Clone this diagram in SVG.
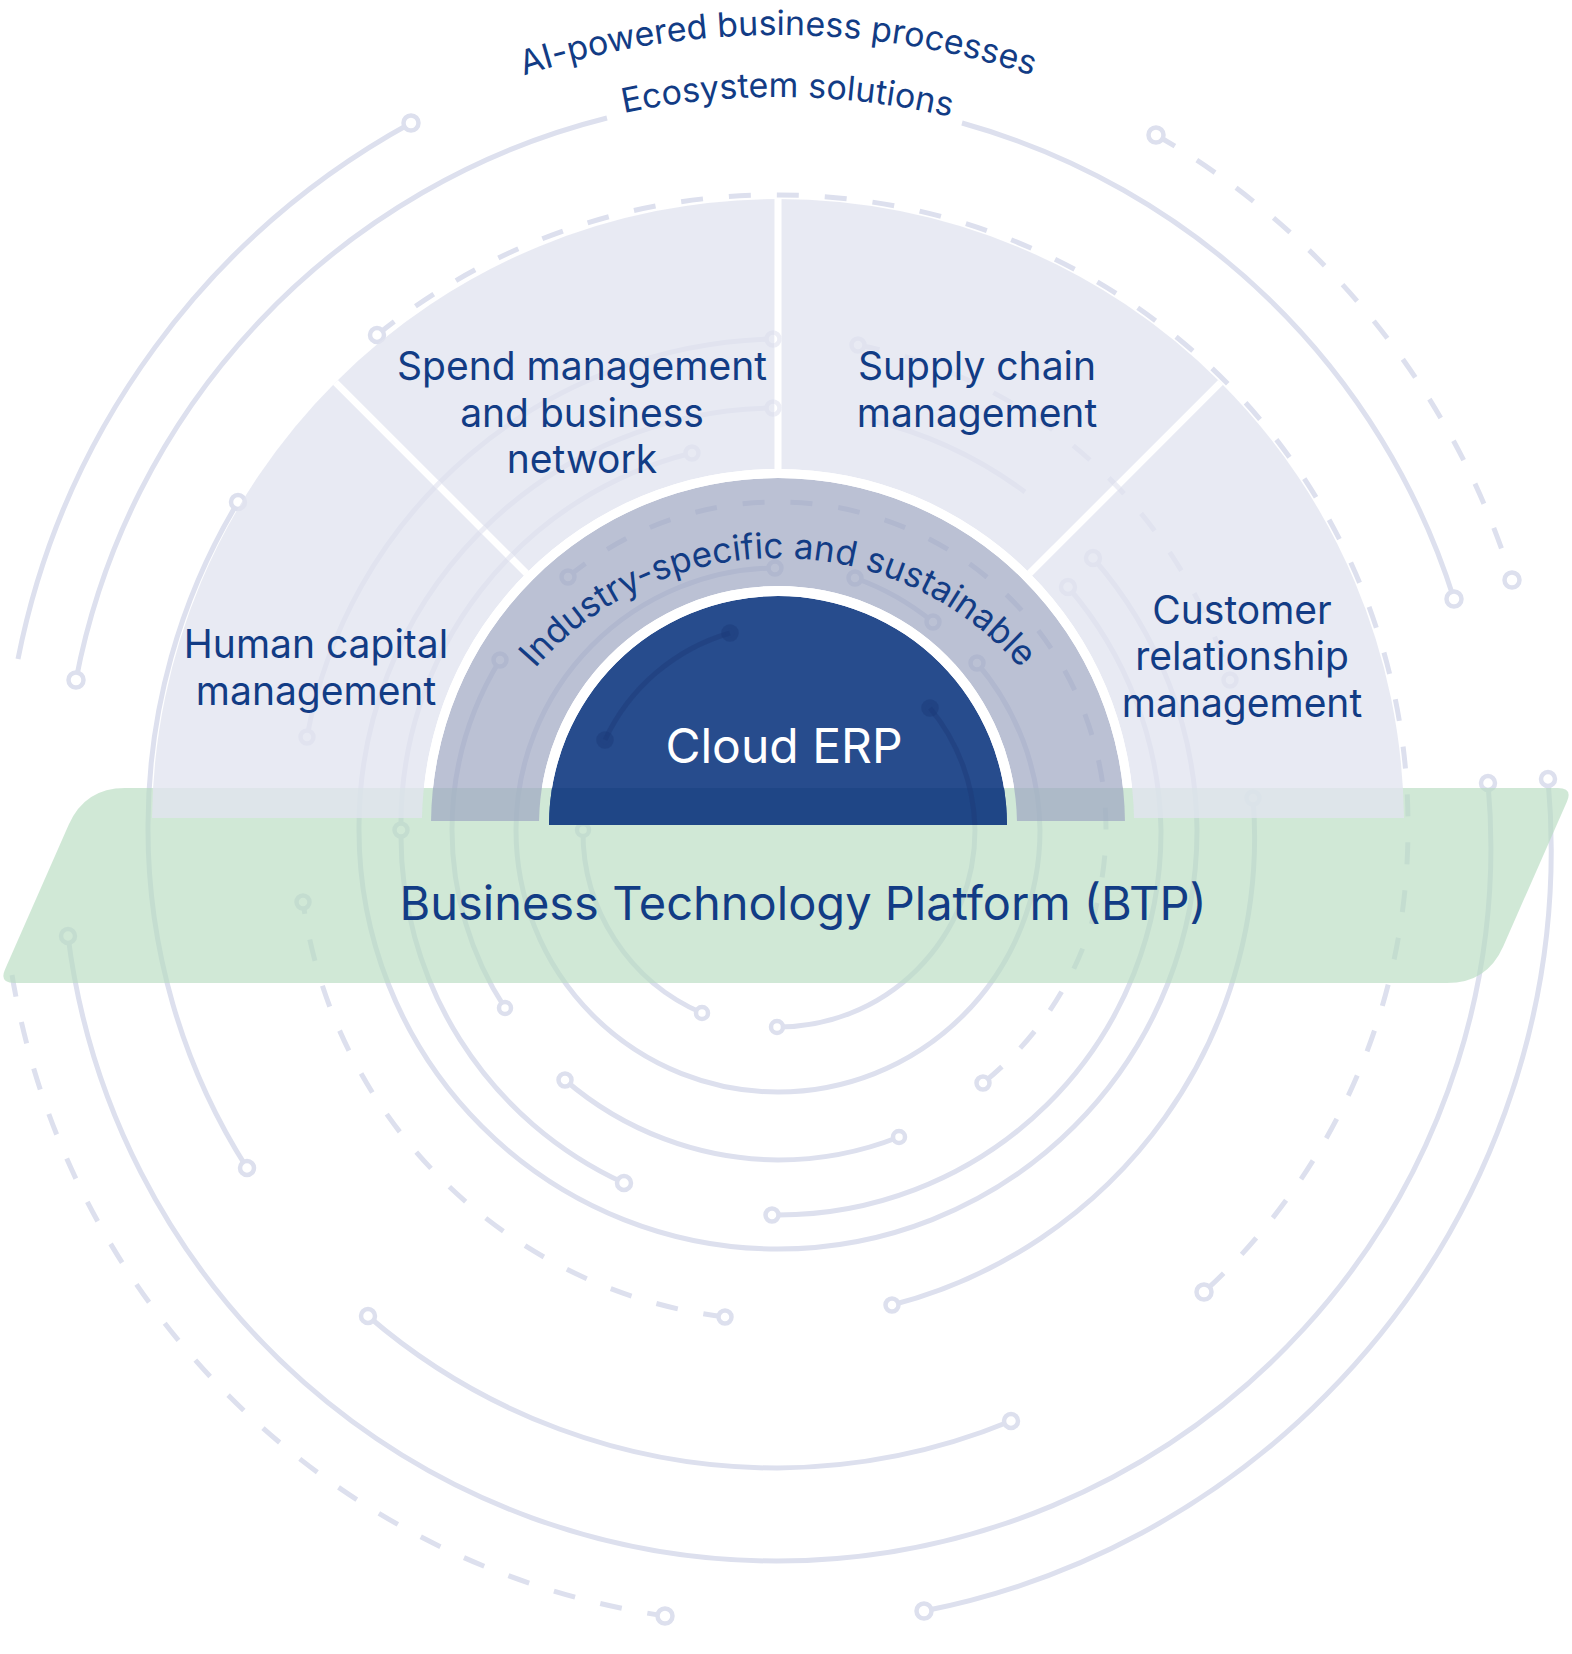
<svg xmlns="http://www.w3.org/2000/svg" xmlns:xlink="http://www.w3.org/1999/xlink" width="1572" height="1654" viewBox="0 0 1572 1654">
<style>
.ln{fill:none;stroke:#dde0ee;stroke-width:5}
.dl{stroke-dasharray:22 26}
.tm{fill:#fff;stroke:#dde0ee;stroke-width:4.5}
.dk{fill:none;stroke:#1c3a78;stroke-width:5;opacity:0.45}
.dkt{fill:#1c3a78;stroke:#1c3a78;stroke-width:4.5;opacity:0.45}
.lbl{font-family:Inter,"Liberation Sans",sans-serif;fill:#123c85}
.seg{fill:#e1e4ef;fill-opacity:0.78}
</style>
<defs>
<clipPath id="aboveBand"><rect x="0" y="0" width="1572" height="788"/></clipPath>
<clipPath id="ringClip"><rect x="0" y="0" width="1572" height="821"/></clipPath>
<clipPath id="domeClip"><path d="M549 825 A229 229 0 0 1 1007 825 Z"/></clipPath>
<mask id="divMask" maskUnits="userSpaceOnUse" x="0" y="0" width="1572" height="1654">
<path d="M778 469 L778 199 M1029.7 573.3 L1220.6 382.4 M526.3 573.3 L335.4 382.4" stroke="#fff" stroke-width="7" fill="none"/>
</mask>
<path id="arcAI" d="M-37 850 A815 815 0 0 1 1593 850"/>
<path id="arcEco" d="M25 850 A753 753 0 0 1 1531 850"/>
<path id="arcInd" d="M456 880 A322 322 0 0 1 1100 880"/>
</defs>

<g id="connectors">
<g id="circuit-lines">
<path class="ln" d="M18 659 A785 785 0 0 1 411 123"/>
<path class="ln" d="M76 680 A718 718 0 0 1 607 118"/>
<path class="ln" d="M962 123 A718 718 0 0 1 1454 599"/>
<path class="ln dl" d="M1156 135 A780 780 0 0 1 1512 580"/>
<path class="ln dl" d="M377 335 A630 630 0 0 1 778 195 A630 630 0 0 1 1408 825 A630 630 0 0 1 1204 1292"/>
<path class="ln" d="M238 502 A630 630 0 0 0 148 825 A630 630 0 0 0 247 1168"/>
<path class="ln" d="M68 936 A714 714 0 0 0 777 1561 A714 714 0 0 0 1488 783"/>
<path class="ln" d="M1548 779 A775 775 0 0 1 1326 1395 A775 775 0 0 1 924 1611"/>
<path class="ln dl" d="M12 975 A777 777 0 0 0 229 1396 A777 777 0 0 0 665 1616"/>
<path class="ln" d="M368 1316 A625 625 0 0 0 778 1468 A625 625 0 0 0 1011 1421"/>
<path class="ln dl" d="M725 1317 A486 486 0 0 1 303 902"/>
<path class="ln" d="M307 737 A485 485 0 0 1 773 339"/>
<path class="ln" d="M773 408 A419 419 0 0 0 359 830 A419 419 0 0 0 778 1249 A419 419 0 0 0 1197 830 A419 419 0 0 0 1093 558"/>
<path class="ln" d="M870 420 A419 419 0 0 1 1025 492"/>
<path class="ln" d="M692 453 A382 382 0 0 0 401 830"/>
<path class="ln" d="M401 830 A382 382 0 0 0 624 1183"/>
<path class="ln" d="M772 1215 A383 383 0 0 0 1161 830 A383 383 0 0 0 1068 587"/>
<path class="ln" d="M892 1305 A483 483 0 0 0 1253 798"/>
<path class="ln dl" d="M858 345 A484 484 0 0 1 1230 680"/>
<path class="ln" d="M500 660 A326 326 0 0 0 452 830 A326 326 0 0 0 505 1008"/>
<path class="ln dl" d="M568 577 A328 328 0 0 1 778 502 A328 328 0 0 1 1106 830 A328 328 0 0 1 983 1083"/>
<path class="ln" d="M775 568 A262 262 0 0 0 516 830 A262 262 0 0 0 778 1092 A262 262 0 0 0 1040 830 A262 262 0 0 0 977 663"/>
<path class="ln" d="M855 578 A261 261 0 0 1 933 622"/>
<path class="ln" d="M930 708 A197 197 0 0 1 975 830 A197 197 0 0 1 777 1027"/>
<path class="ln" d="M730 633 A199 199 0 0 0 605 740"/>
<path class="ln" d="M583 830 A197 197 0 0 0 702 1013"/>
<path class="ln" d="M565 1080 A330 330 0 0 0 778 1160 A330 330 0 0 0 899 1137"/>
<g>
<circle class="tm" cx="411" cy="123" r="7.5"/>
<circle class="tm" cx="76" cy="680" r="7.5"/>
<circle class="tm" cx="1454" cy="599" r="7.5"/>
<circle class="tm" cx="1156" cy="135" r="7.5"/>
<circle class="tm" cx="1512" cy="580" r="7.5"/>
<circle class="tm" cx="377" cy="335" r="7"/>
<circle class="tm" cx="1204" cy="1292" r="7.5"/>
<circle class="tm" cx="68" cy="936" r="7"/>
<circle class="tm" cx="1488" cy="783" r="7"/>
<circle class="tm" cx="1548" cy="779" r="7"/>
<circle class="tm" cx="924" cy="1611" r="7.5"/>
<circle class="tm" cx="665" cy="1616" r="7.5"/>
<circle class="tm" cx="368" cy="1316" r="7"/>
<circle class="tm" cx="1011" cy="1421" r="7"/>
<circle class="tm" cx="238" cy="502" r="7"/>
<circle class="tm" cx="247" cy="1168" r="7"/>
<circle class="tm" cx="725" cy="1317" r="6.5"/>
<circle class="tm" cx="303" cy="902" r="6.5"/>
<circle class="tm" cx="307" cy="737" r="6.5"/>
<circle class="tm" cx="773" cy="339" r="6.5"/>
<circle class="tm" cx="773" cy="408" r="6.5"/>
<circle class="tm" cx="1093" cy="558" r="7"/>
<circle class="tm" cx="692" cy="453" r="6.5"/>
<circle class="tm" cx="401" cy="830" r="6.5"/>
<circle class="tm" cx="624" cy="1183" r="7"/>
<circle class="tm" cx="500" cy="660" r="6.5"/>
<circle class="tm" cx="505" cy="1008" r="6"/>
<circle class="tm" cx="568" cy="577" r="6.5"/>
<circle class="tm" cx="983" cy="1083" r="6.5"/>
<circle class="tm" cx="775" cy="568" r="6.5"/>
<circle class="tm" cx="977" cy="663" r="6.5"/>
<circle class="tm" cx="855" cy="578" r="6.5"/>
<circle class="tm" cx="933" cy="622" r="6.5"/>
<circle class="tm" cx="777" cy="1027" r="6"/>
<circle class="tm" cx="583" cy="830" r="6"/>
<circle class="tm" cx="702" cy="1013" r="6"/>
<circle class="tm" cx="565" cy="1080" r="6.5"/>
<circle class="tm" cx="899" cy="1137" r="6"/>
<circle class="tm" cx="772" cy="1215" r="6.5"/>
<circle class="tm" cx="1068" cy="587" r="7"/>
<circle class="tm" cx="892" cy="1305" r="6.5"/>
<circle class="tm" cx="1253" cy="798" r="6.5"/>
<circle class="tm" cx="858" cy="345" r="6.5"/>
<circle class="tm" cx="1230" cy="680" r="6.5"/>
</g>
</g>
</g>

<g id="node-btp">
<path d="M125 788 L1558 788 Q1573 788 1566.9 801.7 L1503.2 946.4 Q1487 983 1447 983 L14 983 Q-1 983 5.1 969.3 L68.8 824.6 Q85 788 125 788 Z" fill="#b7dcc0" fill-opacity="0.65"/>
<text class="lbl" x="803" y="920" font-size="47" text-anchor="middle">Business Technology Platform (BTP)</text>
</g>

<g id="node-hcm">
<path class="seg" d="M152 818 A626 626 0 0 1 335.4 382.4 L526.3 573.3 A356 356 0 0 0 422 818 Z"/>
</g>
<g id="node-spend">
<path class="seg" d="M335.4 382.4 A626 626 0 0 1 778 199 L778 469 A356 356 0 0 0 526.3 573.3 Z"/>
</g>
<g id="node-supply">
<path class="seg" d="M778 199 A626 626 0 0 1 1220.6 382.4 L1029.7 573.3 A356 356 0 0 0 778 469 Z"/>
</g>
<g id="node-crm">
<path class="seg" d="M1220.6 382.4 A626 626 0 0 1 1404 818 L1134 818 A356 356 0 0 0 1029.7 573.3 Z"/>
</g>
<g id="node-industry" clip-path="url(#ringClip)">
<path d="M431 825 A347 347 0 0 1 1125 825 L1017 825 A239 239 0 0 0 539 825 Z" fill="#9ea6c2" fill-opacity="0.7"/>
</g>
<g id="node-cloud-erp">
<path d="M549 825 A229 229 0 0 1 1007 825 Z" fill="#274c8d"/>
<path d="M552 788 L1004 788 A229 229 0 0 1 1007 825 L549 825 A229 229 0 0 1 552 788 Z" fill="#1f4686"/>
</g>

<g id="gaps" fill="#fff" clip-path="url(#aboveBand)">
<path d="M539 825 A239 239 0 0 1 1017 825 L1007 825 A229 229 0 0 0 549 825 Z"/>
<path d="M422 825 A356 356 0 0 1 1134 825 L1125 825 A347 347 0 0 0 431 825 Z"/>
<path d="M778 469 L778 199 M1029.7 573.3 L1220.6 382.4 M526.3 573.3 L335.4 382.4" stroke="#fff" stroke-width="7" fill="none"/>
</g>

<use xlink:href="#circuit-lines" href="#circuit-lines" mask="url(#divMask)" opacity="0.55"/>

<g id="dome-lines" clip-path="url(#domeClip)">
<path class="dk" d="M930 708 A197 197 0 0 1 975 830"/>
<path class="dk" d="M730 633 A199 199 0 0 0 605 740"/>
<circle class="dkt" cx="930" cy="708" r="6.5"/>
<circle class="dkt" cx="730" cy="633" r="6.5"/>
<circle class="dkt" cx="605" cy="740" r="6.5"/>
</g>

<g id="labels">
<text class="lbl" font-size="34"><textPath href="#arcAI" xlink:href="#arcAI" startOffset="50%" text-anchor="middle">AI-powered business processes</textPath></text>
<text class="lbl" font-size="34"><textPath href="#arcEco" xlink:href="#arcEco" startOffset="50.4%" text-anchor="middle">Ecosystem solutions</textPath></text>
<text class="lbl" font-size="35"><textPath href="#arcInd" xlink:href="#arcInd" startOffset="50%" text-anchor="middle">Industry-specific and sustainable</textPath></text>
<text class="lbl" font-size="39" text-anchor="middle"><tspan x="582" y="380">Spend management</tspan><tspan x="582" y="427">and business</tspan><tspan x="582" y="473">network</tspan></text>
<text class="lbl" font-size="39" text-anchor="middle"><tspan x="977" y="380">Supply chain</tspan><tspan x="977" y="427">management</tspan></text>
<text class="lbl" font-size="39" text-anchor="middle"><tspan x="316" y="658">Human capital</tspan><tspan x="316" y="705">management</tspan></text>
<text class="lbl" font-size="39" text-anchor="middle"><tspan x="1242" y="624">Customer</tspan><tspan x="1242" y="670">relationship</tspan><tspan x="1242" y="717">management</tspan></text>
<text x="784" y="763" font-size="48" text-anchor="middle" font-family="Inter, 'Liberation Sans', sans-serif" fill="#ffffff">Cloud ERP</text>
</g>
</svg>
